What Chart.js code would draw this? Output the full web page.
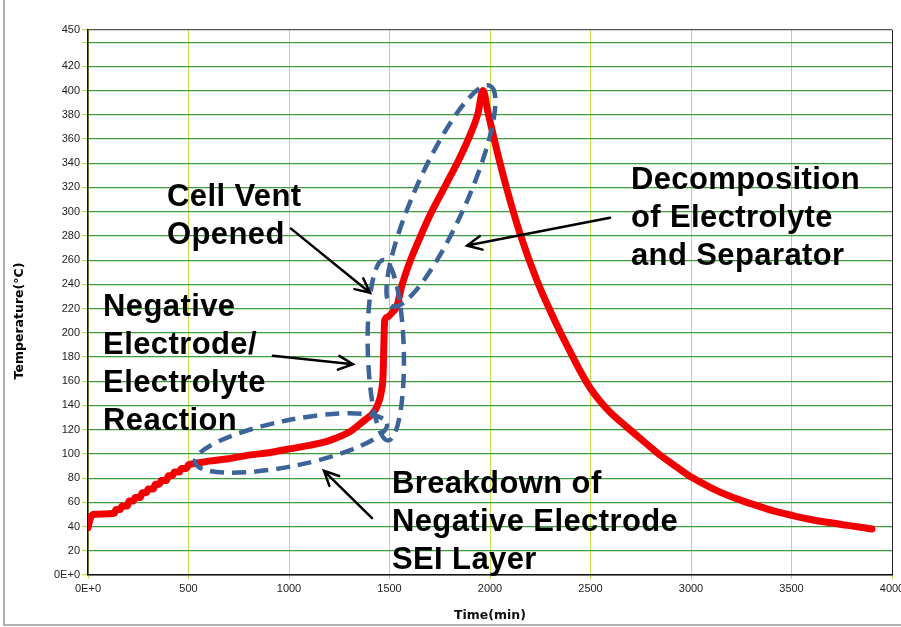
<!DOCTYPE html>
<html>
<head>
<meta charset="utf-8">
<script src="https://cdn.jsdelivr.net/npm/chart.js@4"></script>
<style>
  html, body { margin: 0; padding: 0; background: #fff; }
  #wrap { width: 901px; height: 627px; }
</style>
</head>
<body>
<div id="wrap"><canvas id="tempChart" width="901" height="627"></canvas></div>
<script>
// Cell temperature vs time
const times = [0, 10, 25, 130, 140, 160, 170, 195, 205, 225, 235, 260, 270, 290, 300, 325, 335, 355, 365, 390,
  400, 420, 430, 455, 465, 490, 500, 530, 600, 700, 800, 900, 1000, 1100, 1200, 1300, 1370, 1420, 1440, 1460,
  1468, 1472, 1476, 1490, 1515, 1537, 1560, 1600, 1650, 1701, 1786, 1851, 1900, 1940, 1965,
  1990, 2015, 2050, 2085, 2149, 2234, 2300, 2348, 2400, 2450, 2500, 2550, 2600, 2682, 2760, 2846, 2930, 3010,
  3100, 3179, 3260, 3343, 3420, 3507, 3590, 3677, 3780, 3900];
const temps = [39, 46, 50, 51, 54, 54, 57, 57, 61, 61, 64, 64, 68, 68, 71, 71, 75, 75, 78, 78,
  82, 82, 85, 85, 88, 88, 91, 92, 94, 96, 99, 101, 104, 107, 111, 118, 127, 134, 140, 152,
  165, 190, 210, 213, 217, 222, 238, 258, 278, 297, 324, 345, 363, 381, 400,
  382, 364, 340, 318, 282, 243, 218, 201, 184, 168, 154, 143, 134, 122, 111, 99, 89, 80,
  72, 66, 61, 56.5, 52.5, 49, 46, 43.5, 41, 38];

const xTicks = [0, 500, 1000, 1500, 2000, 2500, 3000, 3500, 4000];
const yTicks = [0, 20, 40, 60, 80, 100, 120, 140, 160, 180, 200, 220, 240, 260, 280, 300, 320, 340, 360, 380, 400, 420, 440, 450];

// callouts, positioned in data units (time, temperature)
const labels = [
  { lines: ['Cell Vent', 'Opened'], at: [393, 312] },
  { lines: ['Negative', 'Electrode/', 'Electrolyte', 'Reaction'], at: [75, 221] },
  { lines: ['Decomposition', 'of Electrolyte', 'and Separator'], at: [2701, 326] },
  { lines: ['Breakdown of', 'Negative Electrode', 'SEI Layer'], at: [1512, 75] }
];
const arrows = [
  { from: [1010, 286], to: [1403, 233] },
  { from: [920, 181], to: [1318, 174] },
  { from: [2597, 295], to: [1886, 272] },
  { from: [1413, 47], to: [1174, 86] }
];
const ovals = [
  { from: [532, 93], to: [1488, 125], half: 23 },
  { from: [1470, 260], to: [1493, 111], half: 18 },
  { from: [1512, 222], to: [2000, 404], half: 26 }
];

const notesPlugin = {
  id: 'notes',
  beforeDraw(chart) {
    const ctx = chart.ctx;
    ctx.save();
    ctx.strokeStyle = '#b0b0b0';
    ctx.lineWidth = 2;
    ctx.beginPath();
    ctx.moveTo(4, 0); ctx.lineTo(4, 625); ctx.lineTo(901, 625);
    ctx.stroke();
    ctx.restore();
  },
  afterDatasetsDraw(chart) {
    const { ctx, scales: { x, y } } = chart;
    const px = v => x.getPixelForValue(v);
    const py = v => y.getPixelForValue(v);
    ctx.save();

    // dashed ovals
    ctx.strokeStyle = '#3c6499';
    ctx.lineWidth = 4.5;
    ctx.setLineDash([14, 8]);
    ovals.forEach(o => {
      const x1 = px(o.from[0]), y1 = py(o.from[1]);
      const x2 = px(o.to[0]), y2 = py(o.to[1]);
      ctx.beginPath();
      ctx.ellipse((x1 + x2) / 2, (y1 + y2) / 2, Math.hypot(x2 - x1, y2 - y1) / 2, o.half,
        Math.atan2(y2 - y1, x2 - x1), 0, Math.PI * 2);
      ctx.stroke();
    });
    ctx.setLineDash([]);

    // arrows
    ctx.strokeStyle = '#000';
    ctx.lineWidth = 2.5;
    ctx.lineCap = 'round';
    arrows.forEach(a => {
      const x1 = px(a.from[0]), y1 = py(a.from[1]);
      const x2 = px(a.to[0]), y2 = py(a.to[1]);
      const ang = Math.atan2(y2 - y1, x2 - x1);
      ctx.beginPath();
      ctx.moveTo(x1, y1); ctx.lineTo(x2, y2);
      ctx.moveTo(x2 - 16 * Math.cos(ang - 0.45), y2 - 16 * Math.sin(ang - 0.45));
      ctx.lineTo(x2, y2);
      ctx.lineTo(x2 - 16 * Math.cos(ang + 0.45), y2 - 16 * Math.sin(ang + 0.45));
      ctx.stroke();
    });

    // callout text
    ctx.fillStyle = '#000';
    ctx.font = 'bold 31px "Liberation Sans", Arial, sans-serif';
    ctx.letterSpacing = '0.4px';
    ctx.textBaseline = 'middle';
    ctx.textAlign = 'left';
    labels.forEach(l => {
      const lx = px(l.at[0]), ly = py(l.at[1]);
      l.lines.forEach((t, i) => ctx.fillText(t, lx, ly + i * 38));
    });
    ctx.letterSpacing = '0px';

    // y axis title
    ctx.font = 'bold 12.5px "DejaVu Sans", sans-serif';
    ctx.textAlign = 'center';
    ctx.translate(20, 321);
    ctx.rotate(-Math.PI / 2);
    ctx.fillText('Temperature(°C)', 0, 0);
    ctx.restore();
  }
};

const ctx = document.getElementById('tempChart').getContext('2d');
new Chart(ctx, {
  type: 'line',
  data: {
    datasets: [{
      label: 'Temperature',
      data: times.map((t, i) => ({ x: t, y: temps[i] })),
      borderColor: '#f20000',
      borderWidth: 7,
      pointRadius: 0,
      cubicInterpolationMode: 'monotone',
      borderCapStyle: 'round',
      borderJoinStyle: 'round'
    }]
  },
  options: {
    responsive: false,
    animation: false,
    layout: { padding: { top: 30, right: 9, left: 0, bottom: 0 } },
    plugins: { legend: { display: false }, tooltip: { enabled: false } },
    scales: {
      x: {
        type: 'linear', min: 0, max: 4000,
        afterBuildTicks: s => { s.ticks = xTicks.map(v => ({ value: v })); },
        afterFit: s => { s.height = 52; s.paddingLeft = 0; s.paddingRight = 0; },
        grid: { color: c => c.tick && c.tick.value === 4000 ? '#222' : '#c8da48', lineWidth: 1, tickLength: 4, tickColor: '#c8da48' },
        border: { color: '#111', width: 1.5 },
        ticks: { font: { family: 'Liberation Sans', size: 11 }, color: '#222', padding: 3, maxRotation: 0,
          callback: v => v === 0 ? '0E+0' : String(v) },
        title: { display: true, text: 'Time(min)', font: { family: 'DejaVu Sans', size: 12.5, weight: 'bold' }, color: '#111' }
      },
      y: {
        min: 0, max: 450,
        afterBuildTicks: s => { s.ticks = yTicks.map(v => ({ value: v })); },
        afterFit: s => { s.width = 88; s.paddingTop = 0; s.paddingBottom = 0; },
        grid: { color: c => c.tick && c.tick.value === 450 ? '#555' : '#3f9c3f', lineWidth: 1.2, tickLength: 6, tickColor: '#c8da48' },
        border: { color: '#111', width: 1.5 },
        ticks: { font: { family: 'Liberation Sans', size: 11 }, color: '#222', padding: 2,
          callback: v => v === 0 ? '0E+0' : (v === 440 ? '' : String(v)) }
      }
    }
  },
  plugins: [notesPlugin]
});
</script>
</body>
</html>
